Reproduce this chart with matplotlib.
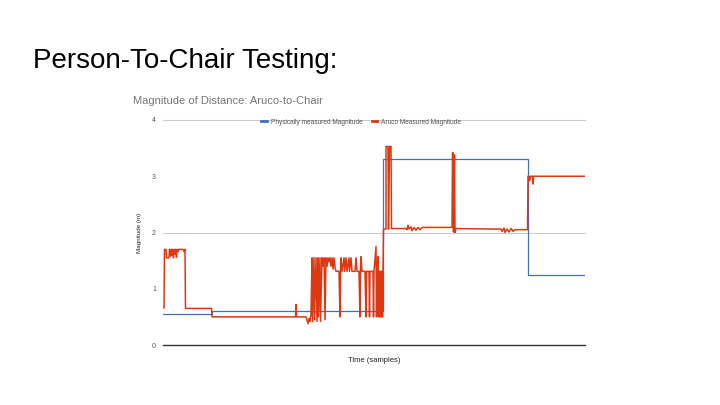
import matplotlib
matplotlib.use('Agg')
from matplotlib import pyplot as plt
from matplotlib.ticker import FixedLocator

plt.rcParams['font.family'] = ['Liberation Sans', 'DejaVu Sans']

slide_title = 'Person-To-Chair Testing:'
chart_title = 'Magnitude of Distance: Aruco-to-Chair'
series_names = ['Physically measured Magnitude', 'Aruco Measured Magnitude']

# физически измеренное расстояние (ступеньки)
phys_t = [0, 97, 97, 440, 440, 730, 730, 844]
phys_m = [0.56, 0.56, 0.60, 0.60, 3.30, 3.30, 1.25, 1.25]

# расстояние по маркеру Aruco
aruco_t = [1, 2, 3, 6, 7, 12, 13, 15, 16, 18, 19, 21, 22, 24, 25, 27, 28, 30, 31, 40,
           42, 44, 45, 97, 98, 265, 266, 267, 286, 288, 290, 292, 294, 296, 298, 299,
           302, 303, 306, 308, 310, 311, 314, 315, 318, 320, 322, 324, 326, 328, 330,
           332, 334, 336, 338, 340, 342, 344, 346, 352, 354, 355, 356, 358, 362, 363,
           366, 368, 372, 373, 376, 378, 384, 386, 388, 392, 394, 395, 396, 398, 404,
           406, 407, 412, 413, 414, 420, 421, 422, 426, 427, 428, 430, 431, 432, 433,
           434, 435, 436, 437, 438, 439, 440, 441, 446, 446, 450, 451, 453, 456, 457,
           486, 488, 490, 492, 496, 498, 502, 506, 510, 514, 518, 578, 579, 580, 581,
           583, 584, 586, 676, 678, 682, 684, 688, 692, 696, 700, 704, 708, 729, 730,
           732, 733, 735, 739, 740, 741, 844]
aruco_m = [0.66, 0.66, 1.70, 1.70, 1.55, 1.55, 1.70, 1.58, 1.70, 1.60, 1.70, 1.55, 1.70,
           1.62, 1.70, 1.56, 1.70, 1.66, 1.70, 1.70, 1.66, 1.70, 0.65, 0.65, 0.50, 0.50,
           0.72, 0.50, 0.50, 0.44, 0.38, 0.47, 0.42, 0.55, 1.55, 0.42, 1.55, 0.45, 1.55,
           0.42, 1.55, 0.50, 1.55, 0.42, 1.55, 1.40, 1.55, 0.45, 1.55, 1.40, 1.55, 1.48,
           1.55, 1.40, 1.55, 1.35, 1.55, 1.38, 1.31, 1.31, 0.50, 1.31, 1.55, 1.31, 1.55,
           1.31, 1.55, 1.31, 1.55, 1.31, 1.55, 1.31, 1.31, 1.55, 1.31, 1.31, 0.50, 1.31,
           1.57, 1.31, 1.31, 0.50, 1.31, 1.31, 0.50, 1.31, 1.31, 0.50, 1.31, 1.75, 0.50,
           1.31, 1.57, 0.50, 1.31, 0.50, 1.31, 0.50, 1.31, 0.50, 1.31, 0.50, 1.31, 2.06,
           2.06, 3.53, 3.53, 2.06, 3.53, 3.53, 2.07, 2.07, 2.05, 2.13, 2.06, 2.10, 2.03,
           2.09, 2.04, 2.09, 2.05, 2.09, 2.09, 3.42, 3.42, 2.01, 3.38, 2.00, 2.07, 2.06,
           2.02, 2.08, 2.00, 2.06, 2.01, 2.07, 2.02, 2.05, 2.05, 2.05, 3.00, 3.00, 2.92,
           3.00, 3.00, 2.86, 3.00, 3.00]

fig = plt.figure(figsize=(7.2, 4.05), dpi=100)
fig.text(33 / 720, 1 - 68 / 405, slide_title, fontsize=20, va='baseline', ha='left', color='#000000')
fig.text(133 / 720, 1 - 101 / 405, chart_title, fontsize=8, va='center', ha='left', color='#757575')

ax = fig.add_axes([163 / 720, 60 / 405, 422 / 720, 225 / 405])
ax.plot(phys_t, phys_m, color='#4470b0', lw=0.9, label=series_names[0])
ax.plot(aruco_t, aruco_m, color='#dc3912', lw=1.1, label=series_names[1])

ax.set_xlim(0, 844)
ax.set_ylim(0, 4)
ax.set_xticks([])
ax.yaxis.set_major_locator(FixedLocator([0, 1, 2, 3, 4]))
ax.tick_params(axis='y', length=0, labelsize=5, labelcolor='#555555', pad=5)
for y in [2, 4]:
    ax.axhline(y, color='#cccccc', lw=0.8, zorder=0, clip_on=False)
ax.axhline(0, color='#333333', lw=1.0, zorder=3, clip_on=False)
for s in ax.spines.values():
    s.set_visible(False)

ax.set_ylabel('Magnitude (m)', fontsize=4.5, color='#222222', labelpad=7)
ax.set_xlabel('Time (samples)', fontsize=5.5, color='#222222', labelpad=9)

leg = ax.legend(loc='center', bbox_to_anchor=(0.47, 0.99), ncol=2, frameon=False,
                fontsize=4.7, handlelength=0.8, handletextpad=0.6, columnspacing=1.5,
                labelcolor='#555555')
for h in leg.legend_handles:
    h.set_linewidth(2)

fig.savefig('out.png', dpi=100)
